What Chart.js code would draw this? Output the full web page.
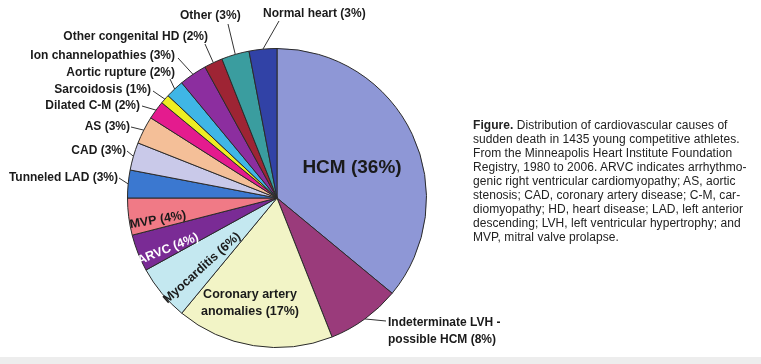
<!DOCTYPE html>
<html>
<head>
<meta charset="utf-8">
<script src="https://cdn.jsdelivr.net/npm/chart.js@4"></script>
<style>
  body { margin: 0; background: #fff; }
  #wrap { position: relative; width: 761px; height: 364px; overflow: hidden; }
  #band { position: absolute; left: 0; top: 357px; width: 761px; height: 7px; background: #ededed; }
  #caption {
    position: absolute; left: 473px; top: 118px; width: 288px;
    font-family: "Liberation Sans", Arial, sans-serif; font-size: 12px;
    letter-spacing: 0.05px; line-height: 14px; color: #222; white-space: nowrap;
  }
</style>
</head>
<body>
<div id="wrap">
  <canvas id="pie" width="761" height="364"></canvas>
  <div id="band"></div>
  <div id="caption">
    <b>Figure.</b> Distribution of cardiovascular causes of<br>
    sudden death in 1435 young competitive athletes.<br>
    From the Minneapolis Heart Institute Foundation<br>
    Registry, 1980 to 2006. ARVC indicates arrhythmo-<br>
    genic right ventricular cardiomyopathy; AS, aortic<br>
    stenosis; CAD, coronary artery disease; C-M, car-<br>
    diomyopathy; HD, heart disease; LAD, left anterior<br>
    descending; LVH, left ventricular hypertrophy; and<br>
    MVP, mitral valve prolapse.
  </div>
</div>
<script>
// causes, clockwise from 12 o'clock
const causes = [
  "HCM", "Indeterminate LVH - possible HCM", "Coronary artery anomalies",
  "Myocarditis", "ARVC", "MVP", "Tunneled LAD", "CAD", "AS", "Dilated C-M",
  "Sarcoidosis", "Aortic rupture", "Ion channelopathies", "Other congenital HD",
  "Other", "Normal heart"
];
const percents = [36, 8, 17, 6, 4, 4, 3, 3, 3, 2, 1, 2, 3, 2, 3, 3];
const sliceColors = [
  "#8e97d6", "#9a3b7b", "#f2f4c6", "#c4e8f0", "#7a2b95", "#f07a86",
  "#3b78d0", "#c9c9e9", "#f4bf98", "#e41b8e", "#eeee22", "#3fb6e6",
  "#8c2e9f", "#9e2434", "#3a9d9f", "#3142a6"
];

// label placement: text lines, where it sits, and where the leader starts
const labelSpots = [
  { i: 0, lines: ["HCM (36%)"], x: 352, y: 168, align: "center", size: 19 },
  { i: 1, lines: ["Indeterminate LVH -", "possible HCM (8%)"], x: 388, y: 323, align: "left", from: [386, 321] },
  { i: 2, lines: ["Coronary artery", "anomalies (17%)"], x: 250, y: 295, align: "center", size: 12.5 },
  { i: 3, lines: ["Myocarditis (6%)"], x: 202, y: 268, align: "center", rot: -42, size: 12.5 },
  { i: 4, lines: ["ARVC (4%)"], x: 168, y: 249, align: "center", rot: -22, color: "#fff", size: 12.5 },
  { i: 5, lines: ["MVP (4%)"], x: 158, y: 220, align: "center", rot: -10, size: 12.5 },
  { i: 6, lines: ["Tunneled LAD (3%)"], x: 118, y: 178, align: "right", from: [119, 178] },
  { i: 7, lines: ["CAD (3%)"], x: 126, y: 151, align: "right", from: [127, 151] },
  { i: 8, lines: ["AS (3%)"], x: 130, y: 127, align: "right", from: [131, 127] },
  { i: 9, lines: ["Dilated C-M (2%)"], x: 140, y: 106, align: "right", from: [142, 106] },
  { i: 10, lines: ["Sarcoidosis (1%)"], x: 151, y: 90, align: "right", from: [153, 91] },
  { i: 11, lines: ["Aortic rupture (2%)"], x: 175, y: 73, align: "right", from: [170, 79] },
  { i: 12, lines: ["Ion channelopathies (3%)"], x: 175, y: 56, align: "right", from: [178, 58] },
  { i: 13, lines: ["Other congenital HD (2%)"], x: 208, y: 37, align: "right", from: [205, 44] },
  { i: 14, lines: ["Other (3%)"], x: 180, y: 16, align: "left", from: [228, 24] },
  { i: 15, lines: ["Normal heart (3%)"], x: 263, y: 14, align: "left", from: [279, 21] }
];

const pieLabels = {
  id: "pieLabels",
  afterDatasetsDraw(chart) {
    const ctx = chart.ctx;
    const arcs = chart.getDatasetMeta(0).data;
    labelSpots.forEach(s => {
      const a = arcs[s.i];
      if (s.from) {
        const mid = (a.startAngle + a.endAngle) / 2;
        const ex = a.x + Math.cos(mid) * a.outerRadius;
        const ey = a.y + Math.sin(mid) * a.outerRadius;
        ctx.save();
        ctx.strokeStyle = "#333";
        ctx.lineWidth = 1;
        ctx.beginPath();
        ctx.moveTo(s.from[0], s.from[1]);
        ctx.lineTo(ex, ey);
        ctx.stroke();
        ctx.restore();
      }
      ctx.save();
      ctx.font = "bold " + (s.size || 12) + "px 'Liberation Sans', Arial, sans-serif";
      ctx.fillStyle = s.color || "#1a1a1a";
      ctx.textAlign = s.align;
      ctx.textBaseline = "middle";
      ctx.translate(s.x, s.y);
      if (s.rot) ctx.rotate(s.rot * Math.PI / 180);
      s.lines.forEach((t, k) => ctx.fillText(t, 0, k * 17));
      ctx.restore();
    });
  }
};

new Chart(document.getElementById("pie"), {
  type: "pie",
  data: {
    labels: causes,
    datasets: [{
      data: percents,
      backgroundColor: sliceColors,
      borderColor: "#2a2a2a",
      borderWidth: 1
    }]
  },
  options: {
    responsive: false,
    animation: false,
    layout: { padding: { left: 125, right: 332, top: 48, bottom: 16 } },
    plugins: {
      legend: { display: false },
      tooltip: { enabled: false }
    }
  },
  plugins: [pieLabels]
});
</script>
</body>
</html>
